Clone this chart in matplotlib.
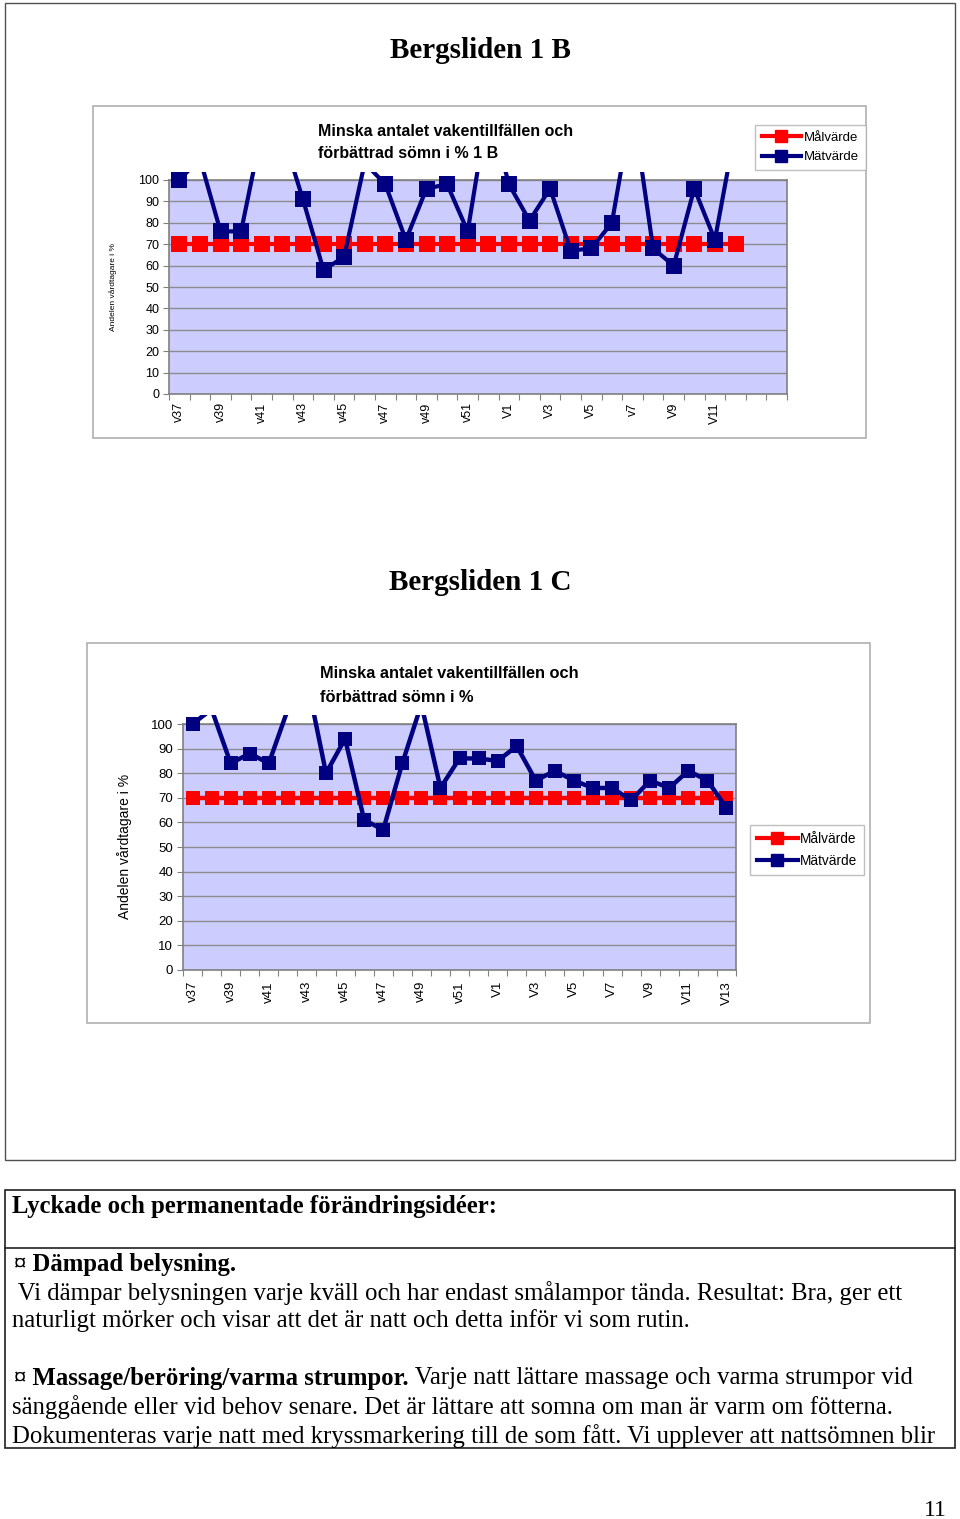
import matplotlib
matplotlib.use('Agg')
import matplotlib.pyplot as plt
import numpy as np
from matplotlib.lines import Line2D
from matplotlib.patches import Rectangle
from matplotlib.transforms import Bbox, TransformedBbox
from matplotlib import font_manager

# Chart 1 B: week categories, target (Målvärde) and measured (Mätvärde) values
cats_b = ['v37', 'v38', 'v39', 'v40', 'v41', 'v42', 'v43', 'v44', 'v45', 'v46',
          'v47', 'v48', 'v49', 'v50', 'v51', 'v52', 'V1', 'V2', 'V3', 'V4',
          'V5', 'V6', 'v7', 'V8', 'V9', 'V10', 'V11', 'V12', '', '']
maal_b = [70, 70, 70, 70, 70, 70, 70, 70, 70, 70, 70, 70, 70, 70,
          70, 70, 70, 70, 70, 70, 70, 70, 70, 70, 70, 70, 70, 70]
matt_b = [100, 110, 76, 76, 123, 122, 91, 58, 64, 108, 98, 72, 96, 98,
          76, 135, 98, 81, 96, 67, 68, 80, 135, 68, 60, 96, 72, 124]

# Chart 1 C
cats_c = ['v37', 'v38', 'v39', 'v40', 'v41', 'v42', 'v43', 'v44', 'v45', 'v46',
          'v47', 'v48', 'v49', 'v50', 'v51', 'v52', 'V1', 'V2', 'V3', 'V4',
          'V5', 'V6', 'V7', 'V8', 'V9', 'V10', 'V11', 'V12', 'V13']
maal_c = [70, 70, 70, 70, 70, 70, 70, 70, 70, 70, 70, 70, 70, 70, 70,
          70, 70, 70, 70, 70, 70, 70, 70, 70, 70, 70, 70, 70, 70]
matt_c = [100, 106, 84, 88, 84, 106, 118, 80, 94, 61, 57, 84, 108, 74, 86,
          86, 85, 91, 77, 81, 77, 74, 74, 69, 77, 74, 81, 77, 66]

series_labels = ['Målvärde', 'Mätvärde']
y_ticks = [0, 10, 20, 30, 40, 50, 60, 70, 80, 90, 100]

W, H = 960, 1519
RED = '#ff0000'
NAVY = '#000080'
PLOT_BG = '#ccccff'
SERIF = 'Liberation Serif'
SANS = 'Liberation Sans'

names = {f.name for f in font_manager.fontManager.ttflist}
NARROW = 'Liberation Sans Narrow' if 'Liberation Sans Narrow' in names else SANS
narrow_ok = NARROW != SANS


def frac(x0, y0, x1, y1):
    return [x0 / W, 1 - y1 / H, (x1 - x0) / W, (y1 - y0) / H]


def draw_chart(fig, rect, cats, maal, matt, fam, fs_tick, ms, lw, pad):
    ax = fig.add_axes(frac(*rect))
    n = len(cats)
    ax.set_facecolor(PLOT_BG)
    ax.set_xlim(-0.5, n - 0.5)
    ax.set_ylim(0, 100)
    ax.set_yticks(y_ticks)
    ax.set_yticklabels([str(v) for v in y_ticks], fontsize=fs_tick, family=fam)
    ax.yaxis.grid(True, color='#8c8c8c', lw=1)
    ax.set_axisbelow(True)
    # tick marks between categories, labels on every other category
    ax.set_xticks(np.arange(n + 1) - 0.5)
    ax.set_xticklabels([])
    ax.set_xticks(np.arange(0, n, 2), minor=True)
    ax.set_xticklabels(cats[::2], minor=True, rotation=90, fontsize=fs_tick, family=fam)
    ax.tick_params(axis='x', which='major', length=4, color='#808080')
    ax.tick_params(axis='x', which='minor', length=0, pad=pad)
    ax.tick_params(axis='y', length=4, color='#808080', pad=3)
    for s in ax.spines.values():
        s.set_color('#808080')
        s.set_linewidth(1.2)

    xr = np.arange(len(maal))
    ax.plot(xr, maal, color=RED, lw=lw, marker='s', ms=ms, mew=0,
            clip_on=False, zorder=3)
    xm = np.arange(len(matt))
    line, = ax.plot(xm, matt, color=NAVY, lw=lw, zorder=4, solid_joinstyle='miter')
    # values above 100 run a little past the plot top and are cut there
    line.set_clip_box(TransformedBbox(Bbox.from_extents(0, 0, 1, 1.037), ax.transAxes))
    vals = np.array(matt, dtype=float)
    vis = np.where(vals <= 100, vals, np.nan)
    ax.plot(xm, vis, ls='none', marker='s', ms=ms, mew=0, color=NAVY,
            clip_on=False, zorder=5)
    return ax


def add_legend(fig, x, y, fam, fs, spacing):
    handles = [Line2D([], [], color=RED, lw=3, marker='s', ms=8),
               Line2D([], [], color=NAVY, lw=3, marker='s', ms=8)]
    leg = fig.legend(handles, series_labels, loc='upper left',
                     bbox_to_anchor=(x / W, 1 - y / H), frameon=True, fancybox=False,
                     edgecolor='#b0b0b0', prop={'family': fam, 'size': fs},
                     handlelength=3.0, handletextpad=0.2, borderaxespad=0,
                     borderpad=0.5, labelspacing=spacing)
    leg.get_frame().set_linewidth(1)


fig = plt.figure(figsize=(W / 100, H / 100), dpi=100)
bg = fig.add_axes([0, 0, 1, 1])
bg.set_xlim(0, W)
bg.set_ylim(H, 0)
bg.axis('off')

# page frames
bg.add_patch(Rectangle((5, 3), 950, 1157, fill=False, ec='#505050', lw=1))
bg.add_patch(Rectangle((93, 106), 773, 332, fc='white', ec='#b0b0b0', lw=1.2))
bg.add_patch(Rectangle((87, 643), 783, 380, fc='white', ec='#b0b0b0', lw=1.2))

bg.text(480, 50, 'Bergsliden 1 B', family=SERIF, weight='bold', fontsize=21,
        ha='center', va='center')
bg.text(480, 583, 'Bergsliden 1 C', family=SERIF, weight='bold', fontsize=21,
        ha='center', va='center')

# chart 1 B
draw_chart(fig, (169, 180, 787, 394), cats_b, maal_b, matt_b, SANS, 9, 11.5, 3, 6)
bg.text(318, 132, 'Minska antalet vakentillfällen och', family=SANS, weight='bold',
        fontsize=11.5, ha='left', va='center')
bg.text(318, 153, 'förbättrad sömn i % 1 B', family=SANS, weight='bold',
        fontsize=11.5, ha='left', va='center')
bg.text(113, 287, 'Andelen vårdtagare i %', family=SANS, fontsize=6, rotation=90,
        ha='center', va='center')
add_legend(fig, 755, 125, SANS, 9.5, 0.55)

# chart 1 C
fs_c = 11 if narrow_ok else 9.5
draw_chart(fig, (183, 724, 736, 970), cats_c, maal_c, matt_c, NARROW, fs_c, 10.5, 3.2, 8)
bg.text(320, 673, 'Minska antalet vakentillfällen och', family=NARROW, weight='bold',
        fontsize=12.5 if narrow_ok else 11.8, ha='left', va='center')
bg.text(320, 698, 'förbättrad sömn i %', family=NARROW, weight='bold',
        fontsize=12.5 if narrow_ok else 11.8, ha='left', va='center')
bg.text(125, 846, 'Andelen vårdtagare i %', family=NARROW, fontsize=10.5 if narrow_ok else 10,
        rotation=90, ha='center', va='center')
add_legend(fig, 750, 825, NARROW, 10.5 if narrow_ok else 9.8, 0.6)

# text box below the charts
bg.add_patch(Rectangle((5, 1190), 950, 258, fill=False, ec='#202020', lw=1.2))
bg.plot([5, 955], [1248, 1248], color='#202020', lw=1.2)
FS = 17.8
bg.text(12, 1206, 'Lyckade och permanentade förändringsidéer:', family=SERIF,
        weight='bold', fontsize=FS, va='center')
bg.text(14, 1265, '¤ Dämpad belysning.', family=SERIF, weight='bold', fontsize=FS, va='center')
bg.text(12, 1293, ' Vi dämpar belysningen varje kväll och har endast smålampor tända. Resultat: Bra, ger ett',
        family=SERIF, fontsize=FS, va='center')
bg.text(12, 1321, 'naturligt mörker och visar att det är natt och detta inför vi som rutin.',
        family=SERIF, fontsize=FS, va='center')
bold = bg.text(14, 1378, '¤ Massage/beröring/varma strumpor.', family=SERIF, weight='bold',
               fontsize=FS, va='center')
renderer = fig.canvas.get_renderer()
ext = bold.get_window_extent(renderer)
x_end = bg.transData.inverted().transform((ext.x1, ext.y0))[0]
bg.text(x_end, 1378, ' Varje natt lättare massage och varma strumpor vid', family=SERIF,
        fontsize=FS, va='center')
bg.text(12, 1407, 'sänggående eller vid behov senare. Det är lättare att somna om man är varm om fötterna.',
        family=SERIF, fontsize=FS, va='center')
bg.text(12, 1436, 'Dokumenteras varje natt med kryssmarkering till de som fått. Vi upplever att nattsömnen blir',
        family=SERIF, fontsize=FS, va='center')
bg.text(947, 1510, '11', family=SERIF, fontsize=17, ha='right', va='center')

fig.savefig('out.png', dpi=100)
plt.close(fig)
